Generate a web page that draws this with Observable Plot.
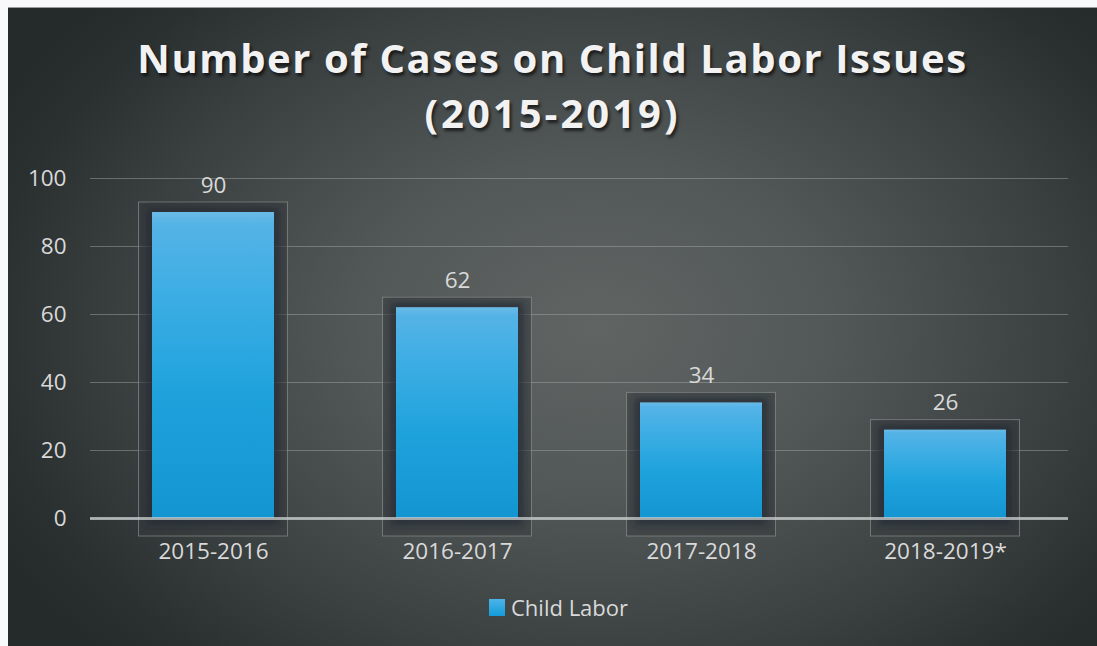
<!DOCTYPE html>
<html>
<head>
<meta charset="utf-8">
<script src="https://cdn.jsdelivr.net/npm/d3@7"></script>
<script src="https://cdn.jsdelivr.net/npm/@observablehq/plot@0.6"></script>
<style>
  html, body { margin: 0; padding: 0; background: #f7f9fa; }
  #frame {
    position: absolute; left: 8px; top: 7px; width: 1089px; height: 639px;
    border-top: 1px solid #9a9c9c;
    background: radial-gradient(ellipse 62% 75% at 54% 50%, #606564 0%, #525757 35%, #3a3f40 70%, #2a2f30 90%, #252a2b 100%);
    overflow: hidden;
    font-family: "Open Sans", sans-serif;
  }
  .title {
    position: absolute; left: 0; width: 100%; text-align: center;
    color: #f2f2f2; font-weight: 700; font-size: 40px; line-height: 55px;
    text-shadow: 2px 3px 3px rgba(0,0,0,0.6);
    white-space: nowrap;
  }
  #chart { position: absolute; left: 0; top: 0; }
  #legend {
    position: absolute; top: 584px; left: 481px; color: #d9d9d9; font-size: 22px;
    display: flex; align-items: center; white-space: nowrap;
  }
  #legend .sw { width: 16px; height: 17px; margin-right: 6px; background: linear-gradient(#4db3e8, #129cd9); }
</style>
</head>
<body>
<div id="frame">
  <div class="title" id="t1" style="top:22px; letter-spacing:1.6px;"></div>
  <div class="title" id="t2" style="top:77px; letter-spacing:3px;"></div>
  <div id="chart"></div>
  <div id="legend"><div class="sw"></div><span id="legtext"></span></div>
</div>
<script>
const titleLines = ["Number of Cases on Child Labor Issues", "(2015-2019)"];
const categories = ["2015-2016", "2016-2017", "2017-2018", "2018-2019*"];
const values = [90, 62, 34, 26];
const yTicks = [0, 20, 40, 60, 80, 100];
const seriesName = "Child Labor";

document.getElementById("t1").textContent = titleLines[0];
document.getElementById("t2").textContent = titleLines[1];
document.getElementById("legtext").textContent = seriesName;

const data = categories.map((c, i) => ({cat: c, value: values[i]}));

const plot = Plot.plot({
  width: 1089,
  height: 639,
  marginLeft: 82,
  marginRight: 29,
  marginTop: 170,
  marginBottom: 129,
  style: {background: "transparent", color: "#d9d9d9", fontSize: "22.5px", fontFamily: "Open Sans, sans-serif", overflow: "visible"},
  x: {domain: categories, paddingInner: 0.5, paddingOuter: 0.25, label: null, tickSize: 0, tickPadding: 25},
  y: {domain: [0, 100], ticks: yTicks, label: null, tickSize: 0, tickPadding: 24},
  marks: [
    Plot.gridY(yTicks, {stroke: "#a8acac", strokeOpacity: 0.45, strokeWidth: 1}),
    Plot.barY(data, {x: "cat", y: "value", insetLeft: -13.5, insetRight: -13.5, insetTop: -10, insetBottom: -18,
      fill: "#353a3b", fillOpacity: 0.5, stroke: "#8d9292", strokeOpacity: 0.65, strokeWidth: 1}),
    Plot.barY(data, {x: "cat", y: "value", insetLeft: -6, insetRight: -6, insetTop: -5, insetBottom: -7,
      fill: "#1a2530", fillOpacity: 0.6}),
    Plot.barY(data, {x: "cat", y: "value", fill: "url(#barGrad)"}),
    Plot.ruleY([0], {stroke: "#c9cdcd", strokeOpacity: 0.75, strokeWidth: 3}),
    Plot.text(data, {x: "cat", y: "value", text: d => String(d.value), dy: -27, fill: "#d9d9d9", fontSize: 22.5})
  ]
});

document.getElementById("chart").appendChild(plot);

const svg = d3.select(plot);
const defs = svg.insert("defs", ":first-child");
const g = defs.append("linearGradient").attr("id", "barGrad").attr("x1", 0).attr("y1", 0).attr("x2", 0).attr("y2", 1);
[[0, "#6bbbe6"], [0.04, "#55b3e6"], [0.25, "#3eaee4"], [0.6, "#1ea2dc"], [1, "#1395d2"]].forEach(([o, c]) =>
  g.append("stop").attr("offset", o).attr("stop-color", c));
const f = defs.append("filter").attr("id", "halo").attr("x", "-20%").attr("y", "-20%").attr("width", "140%").attr("height", "140%");
f.append("feGaussianBlur").attr("stdDeviation", 3);
const bars = plot.querySelectorAll('g[aria-label="bar"]');
if (bars[1]) bars[1].setAttribute("filter", "url(#halo)");
</script>
</body>
</html>
